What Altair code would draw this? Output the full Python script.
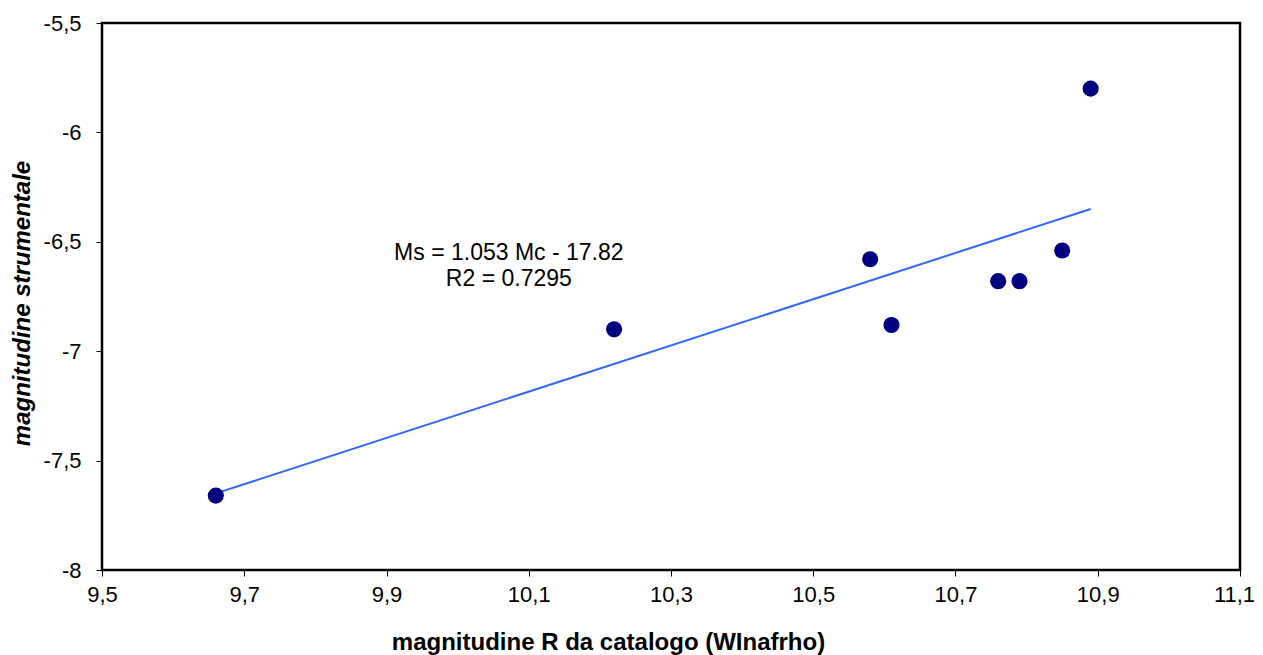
import altair as alt
import pandas as pd

# Observed points
cat_mag = [9.66, 10.22, 10.58, 10.61, 10.76, 10.79, 10.85, 10.89]
instr_mag = [-7.66, -6.90, -6.58, -6.88, -6.68, -6.68, -6.54, -5.80]

# Linear trendline endpoints (as drawn)
trend_x = [9.66, 10.89]
trend_y = [-7.65, -6.35]

# Annotation lines
annot_lines = ["Ms = 1.053 Mc - 17.82", "R2 = 0.7295"]
annot_y = [-6.552, -6.671]

x_ticks = [9.5, 9.7, 9.9, 10.1, 10.3, 10.5, 10.7, 10.9, 11.1]
y_ticks = [-8, -7.5, -7, -6.5, -6, -5.5]

FONT = "Liberation Sans"

pts = pd.DataFrame({"x": cat_mag, "y": instr_mag})
trend = pd.DataFrame({"x": trend_x, "y": trend_y})
annot = pd.DataFrame({"t": annot_lines, "y": annot_y})

xscale = alt.Scale(domain=[9.5, 11.1], nice=False, zero=False)
yscale = alt.Scale(domain=[-8, -5.5], nice=False, zero=False)

xaxis = alt.Axis(
    values=x_ticks,
    labelExpr="replace(replace(format(datum.value, '.1f'), '.', ','), '\u2212', '-')",
    grid=False, domain=False, labelFlush=False,
    labelOffset={"condition": {"test": "datum.value > 11", "value": -6}, "value": 0},
    tickColor="black", tickSize=6, tickWidth=1,
    labelFont=FONT, labelFontSize=22, labelColor="black", labelPadding=8,
    title="magnitudine R da catalogo (WInafrho)",
    titleFont=FONT, titleFontSize=24, titleFontWeight="bold", titleColor="black",
    titleX=506, titleY=72, titleBaseline="middle", titleAnchor="middle",
)
yaxis = alt.Axis(
    values=y_ticks,
    labelExpr="replace(replace(format(datum.value, '~g'), '.', ','), '\u2212', '-')",
    grid=False, domain=False, labelFlush=False,
    tickColor="black", tickSize=6, tickWidth=1,
    labelFont=FONT, labelFontSize=22, labelColor="black", labelPadding=15,
    title="magnitudine strumentale",
    titleFont=FONT, titleFontSize=24, titleFontWeight="bold", titleFontStyle="italic",
    titleColor="black", titleX=-68, titleY=280, titleBaseline="bottom", titleAngle=270,
)

line = alt.Chart(trend).mark_line(color="#3366ff", strokeWidth=2).encode(
    x=alt.X("x:Q", scale=xscale, axis=xaxis),
    y=alt.Y("y:Q", scale=yscale, axis=yaxis),
)

points = alt.Chart(pts).mark_circle(color="#000080", opacity=1, size=260).encode(
    x=alt.X("x:Q", scale=xscale),
    y=alt.Y("y:Q", scale=yscale),
)

text = alt.Chart(annot).mark_text(
    font=FONT, fontSize=23, color="black", align="center", baseline="middle"
).encode(
    x=alt.datum(10.072),
    y=alt.Y("y:Q", scale=yscale),
    text="t:N",
)

chart = alt.layer(line, points, text).properties(
    width=1138, height=547,
    background="white",
    autosize=alt.AutoSizeParams(type="none"),
    padding={"left": 94, "top": 15, "right": 15, "bottom": 86},
).configure_view(
    stroke="black", strokeWidth=2.5
)

chart.save("out.html", embed_options={"renderer": "svg", "actions": False})
